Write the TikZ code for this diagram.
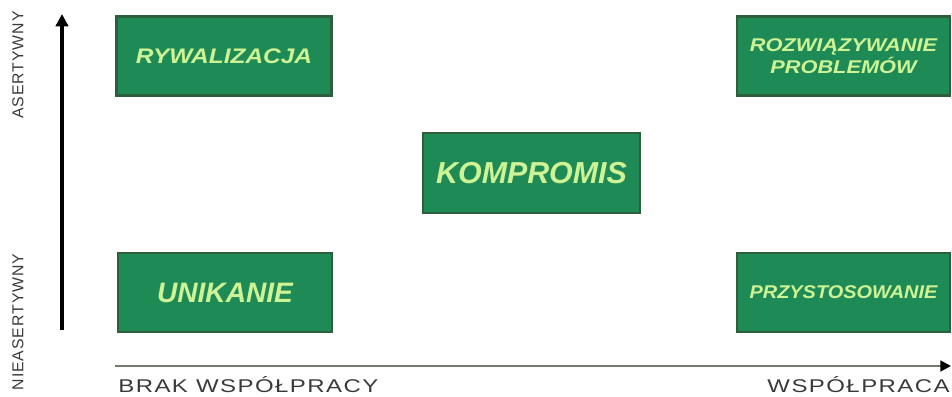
\documentclass[tikz,border=0pt]{standalone}
\usepackage{graphicx}
\usepackage{fontspec}
\setmainfont{Liberation Sans}
\newfontfamily\axisfont[LetterSpace=6]{Liberation Sans}
\usetikzlibrary{arrows.meta,positioning}
\definecolor{boxgreen}{HTML}{1E8A56}
\definecolor{boxedge}{HTML}{2D5F3B}
\definecolor{textgreen}{HTML}{CDF395}
\definecolor{axisgrey}{HTML}{6F7D6F}
\definecolor{labelgrey}{HTML}{3A3A3A}
\newcommand{\wide}[2]{\scalebox{#1}[1]{#2}}

\begin{document}
\begin{tikzpicture}[
  x=0.02cm, y=-0.02cm,
  style box/.style={fill=boxgreen, draw=boxedge, line width=1.4pt, minimum width=4.3cm, minimum height=1.58cm,
    inner sep=0pt, align=center, text=textgreen, font=\bfseries\itshape},
  axis lab/.style={font=\axisfont\small, text=labelgrey, inner sep=0pt},
]
\useasboundingbox (0,0) rectangle (952,396);
% the five styles
\node[style box, font=\bfseries\itshape\fontsize{12}{14}\selectfont] (rywalizacja) at (224,56) {\wide{1.16}{RYWALIZACJA}};
\node[style box, font=\bfseries\itshape\fontsize{10.5}{12.5}\selectfont, minimum width=4.26cm] (rozwiazywanie) at (843.5,56)
  {\wide{1.18}{ROZWIĄZYWANIE}\\\wide{1.18}{PROBLEMÓW}};
\node[style box, font=\bfseries\itshape\LARGE, minimum width=4.34cm, minimum height=1.6cm] (kompromis) at (531.5,173) {KOMPROMIS};
\node[style box, font=\bfseries\itshape\fontsize{16}{18}\selectfont, minimum width=4.28cm] (unikanie) at (225,292.5) {UNIKANIE};
\node[style box, font=\bfseries\itshape\fontsize{10.5}{12}\selectfont, minimum width=4.26cm] (przystosowanie) at (843.5,292.5) {\wide{1.08}{PRZYSTOSOWANIE}};
% axes
\coordinate (ybot) at (62,330);
\coordinate (ytop) at (62,14);
\coordinate (xleft) at (115,366);
\coordinate (xright) at (951,366);
\draw[line width=1.8pt, -{Triangle[length=7pt,width=7pt]}] (ybot) -- (ytop);
\draw[axisgrey, line width=1.6pt, -{Triangle[length=6pt,width=6pt,black]}] (xleft) -- (xright);
% axis labels
\node[axis lab, rotate=90] (asertywny) at (18,65) {ASERTYWNY};
\node[axis lab, rotate=90] (nieasertywny) at (18,322) {NIEASERTYWNY};
\node[axis lab, font=\axisfont\fontsize{10.5}{12}\selectfont, anchor=west] (brak) at (118,385) {\wide{1.3}{BRAK WSPÓŁPRACY}};
\node[axis lab, font=\axisfont\fontsize{10.5}{12}\selectfont, anchor=east] (wspolpraca) at (950,385) {\wide{1.3}{WSPÓŁPRACA}};
\end{tikzpicture}
\end{document}
